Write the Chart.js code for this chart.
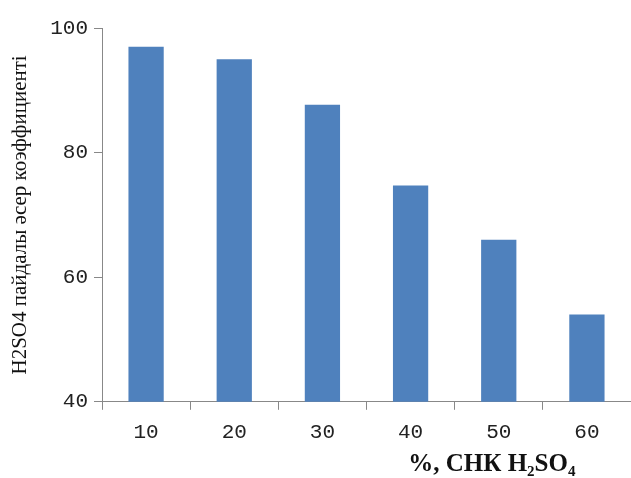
<!DOCTYPE html>
<html>
<head>
<meta charset="utf-8">
<script src="https://cdn.jsdelivr.net/npm/chart.js@4"></script>
<style>
  html, body { margin: 0; padding: 0; background: #fff; }
  #wrap { width: 631px; height: 478px; }
</style>
</head>
<body>
<div id="wrap"><canvas id="myChart" width="631" height="478"></canvas></div>
<script>
// данные с графика
let kategorii = ['10', '20', '30', '40', '50', '60']
let znacheniya = [97, 95, 87.7, 74.7, 66, 54]
let ytiki = [40, 60, 80, 100]
let podpisY = 'H2SO4 пайдалы әсер коэффициенті'
let podpisX = '%, СНК H₂SO₄'

// подпись оси X рисуем сами, она сдвинута вправо
const podpisOsiX = {
    id: 'podpisOsiX',
    afterDraw(chart) {
        const ctx = chart.ctx
        ctx.save()
        ctx.font = 'bold 25px "Liberation Serif"'
        ctx.fillStyle = '#111'
        ctx.textAlign = 'center'
        ctx.textBaseline = 'middle'
        ctx.fillText(podpisX, chart.chartArea.left + (chart.chartArea.right - chart.chartArea.left) * 0.737, 465)
        ctx.restore()
    }
}

function generarGrafico(){
    let grafico = document.getElementById('myChart')
    let myChart = new Chart(grafico, {
        type: 'bar',
        data: {
            labels: kategorii,
            datasets: [{
                data: znacheniya,
                backgroundColor: '#4F81BD',
                borderWidth: 0,
                categoryPercentage: 1,
                barPercentage: 0.4
            }]
        },
        options: {
            responsive: false,
            animation: false,
            layout: { padding: { top: 28, left: 8, right: 0, bottom: 23 } },
            plugins: { legend: { display: false }, tooltip: { enabled: false } },
            scales: {
                x: {
                    grid: { display: true, drawOnChartArea: false, tickLength: 8, color: '#888' },
                    border: { color: '#888' },
                    ticks: { color: '#222', padding: 10, font: { family: '"Liberation Mono"', size: 21 } }
                },
                y: {
                    min: 40,
                    max: 100,
                    afterBuildTicks: (axis) => { axis.ticks = ytiki.map(v => ({ value: v })) },
                    grid: { display: true, drawOnChartArea: false, tickLength: 8, color: '#888' },
                    border: { color: '#888' },
                    ticks: { color: '#222', padding: 6, font: { family: '"Liberation Mono"', size: 21 } },
                    title: {
                        display: true,
                        text: podpisY,
                        color: '#111',
                        font: { family: '"Liberation Serif"', size: 21 },
                        padding: { top: 0, bottom: 11 }
                    }
                }
            }
        },
        plugins: [podpisOsiX]
    })
}
generarGrafico()
</script>
</body>
</html>
